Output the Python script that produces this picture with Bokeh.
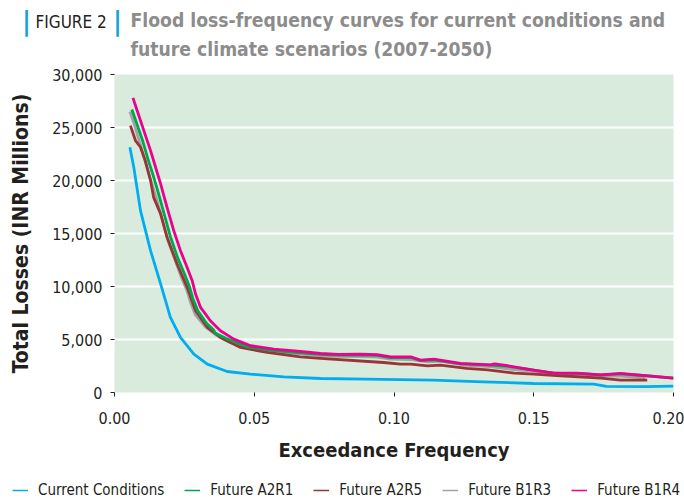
from bokeh.plotting import figure
from bokeh.layouts import column
from bokeh.models import (Label, Legend, LegendItem, NumeralTickFormatter,
                          FixedTicker, Range1d)
from bokeh.embed import file_html
from bokeh.resources import INLINE

# ---------------- data ----------------
series_names = ["Current Conditions", "Future A2R1", "Future A2R5",
                "Future B1R3", "Future B1R4"]
series_colors = ["#00aeef", "#00a651", "#9b3535", "#a3a3a3", "#ec008c"]

current_x = [0.0055, 0.0069, 0.0093, 0.0129, 0.0165, 0.020, 0.0236, 0.0284,
             0.0332, 0.0403, 0.0487, 0.0606, 0.0737, 0.090, 0.114, 0.132,
             0.150, 0.1715, 0.176, 0.190, 0.200]
current_y = [23135, 21250, 17160, 13380, 10240, 7080, 5190, 3630,
             2680, 1980, 1740, 1480, 1320, 1270, 1170, 1010,
             850, 790, 570, 560, 600]

a2r1_x = [0.0062, 0.0078, 0.0100, 0.0120, 0.0138, 0.0156, 0.0178, 0.0200,
          0.0226, 0.025, 0.0268, 0.028, 0.0298, 0.033, 0.0355, 0.036, 0.040,
          0.0475, 0.057, 0.0665, 0.0737, 0.080, 0.088, 0.094, 0.0987, 0.106,
          0.1095, 0.1143, 0.1238, 0.1345, 0.140, 0.150, 0.157, 0.1655, 0.174,
          0.181, 0.190, 0.200]
a2r1_y = [26700, 25500, 23800, 22000, 20500, 18900, 16800, 14700,
          12700, 11200, 10000, 8900, 7700, 6500, 5900, 5600, 5100,
          4300, 3950, 3750, 3600, 3520, 3550, 3500, 3300, 3300,
          3000, 3080, 2700, 2580, 2500, 2100, 1820, 1800, 1650,
          1750, 1580, 1350]

a2r5_x = [0.0057, 0.0075, 0.0093, 0.011, 0.0129, 0.014, 0.0165, 0.0188,
          0.0224, 0.026, 0.029, 0.0332, 0.0379, 0.0451, 0.0546, 0.0665,
          0.0737, 0.0963, 0.1023, 0.106, 0.112, 0.1166, 0.126, 0.1335,
          0.143, 0.150, 0.1596, 0.174, 0.181, 0.1906]
a2r5_y = [25180, 23770, 23140, 21880, 19990, 18410, 16850, 14640,
          12120, 9920, 7710, 6140, 5190, 4250, 3780, 3370,
          3210, 2830, 2680, 2680, 2520, 2590, 2270, 2140,
          1830, 1740, 1580, 1360, 1170, 1170]

b1r3_x = [0.0055, 0.0072, 0.0092, 0.0112, 0.0130, 0.0148, 0.0170, 0.0192,
          0.0218, 0.0240, 0.0258, 0.0272, 0.029, 0.0325, 0.0365, 0.0415,
          0.048, 0.057, 0.0665, 0.0737, 0.080, 0.088, 0.094, 0.0987, 0.106,
          0.112, 0.1166, 0.126, 0.1345, 0.143, 0.150, 0.1596, 0.174, 0.181,
          0.190]
b1r3_y = [26500, 25200, 23400, 21600, 20000, 18500, 16400, 14300,
          12400, 10800, 9700, 8500, 7300, 6200, 5400, 4700,
          4150, 3800, 3650, 3480, 3400, 3380, 3330, 3150, 3100,
          2900, 2950, 2550, 2450, 2150, 2000, 1800, 1550, 1550,
          1350]

b1r4_x = [0.0066, 0.0081, 0.0105, 0.0129, 0.0147, 0.0165, 0.0188, 0.0212,
          0.0236, 0.026, 0.0278, 0.029, 0.0308, 0.0343, 0.0379, 0.0427,
          0.0487, 0.057, 0.0665, 0.0737, 0.080, 0.088, 0.094, 0.0987, 0.106,
          0.1095, 0.1143, 0.1238, 0.1345, 0.136, 0.140, 0.150, 0.157, 0.1655,
          0.174, 0.181, 0.190, 0.200]
b1r4_y = [27800, 26600, 24710, 22820, 21250, 19680, 17470, 15270,
          13380, 11800, 10550, 9290, 8030, 6770, 5830, 5040,
          4410, 4100, 3870, 3680, 3600, 3620, 3580, 3370, 3370,
          3060, 3150, 2740, 2615, 2700, 2550, 2115, 1830, 1830,
          1670, 1795, 1600, 1360]

x_ticks = [0.0, 0.05, 0.10, 0.15, 0.20]
y_ticks = [0, 5000, 10000, 15000, 20000, 25000, 30000]

title_tag = "FIGURE 2"
title_line1 = "Flood loss-frequency curves for current conditions and"
title_line2 = "future climate scenarios (2007-2050)"
x_label = "Exceedance Frequency"
y_label = "Total Losses (INR Millions)"

FONT = "DejaVu Sans Condensed"
TXT = "#231f20"
W = 684

# ---------------- title strip ----------------
TH = 62
tfig = figure(width=W, height=TH, output_backend="svg", toolbar_location=None,
              x_range=Range1d(0, 1), y_range=Range1d(0, 1),
              min_border=0, x_axis_type=None, y_axis_type=None,
              frame_align=False)
tfig.outline_line_color = None
tfig.grid.visible = False


def add_label(txt, px, py, size, color, style="bold"):
    tfig.add_layout(Label(x=px, y=TH - py, x_units="screen",
                          y_units="screen", text=txt, text_font=FONT,
                          text_font_size=size, text_color=color,
                          text_font_style=style, text_baseline="middle",
                          text_align="center" if txt == "|" else "left"))


add_label("|", 26, 20, "26px", "#1ba1d9", "bold")
add_label(title_tag, 35, 21, "17px", TXT, "normal")
add_label("|", 117, 20, "26px", "#1ba1d9", "bold")
add_label(title_line1, 130, 20, "19.2px", "#8c8c8c")
add_label(title_line2, 130, 49, "19.2px", "#8c8c8c")

# ---------------- main plot ----------------
MH = 410
p = figure(width=W, height=MH, output_backend="svg", toolbar_location=None,
           x_range=Range1d(0, 0.2), y_range=Range1d(0, 30000),
           min_border_left=114, min_border_right=11, min_border_top=12,
           min_border_bottom=80, frame_align=False)
p.background_fill_color = "#d8ebdd"
p.border_fill_color = "white"
p.outline_line_color = None

p.xgrid.grid_line_color = None
p.ygrid.grid_line_color = "white"
p.ygrid.grid_line_width = 2

for ax in (p.xaxis[0], p.yaxis[0]):
    ax.axis_line_color = None
    ax.major_tick_line_color = TXT
    ax.major_tick_in = 0
    ax.major_tick_out = 4
    ax.minor_tick_line_color = None
    ax.major_label_text_font = FONT
    ax.major_label_text_font_size = "16px"
    ax.major_label_text_color = TXT
    ax.axis_label_text_font = FONT
    ax.axis_label_text_font_style = "bold"
    ax.axis_label_text_color = TXT

p.xaxis.axis_label_text_font_size = "20px"
p.yaxis.axis_label_text_font_size = "21px"
p.xaxis.ticker = FixedTicker(ticks=x_ticks)
p.yaxis.ticker = FixedTicker(ticks=y_ticks)
p.xaxis.formatter = NumeralTickFormatter(format="0.00")
p.yaxis.formatter = NumeralTickFormatter(format="0,0")
p.xaxis.axis_label = x_label
p.yaxis.axis_label = y_label
p.xaxis.major_label_standoff = 15
p.xaxis.axis_label_standoff = 11
p.yaxis.major_label_standoff = 8
p.yaxis.axis_label_standoff = 16

all_x = [current_x, a2r1_x, a2r5_x, b1r3_x, b1r4_x]
all_y = [current_y, a2r1_y, a2r5_y, b1r3_y, b1r4_y]
order = [0, 3, 2, 1, 4]
for i in order:
    p.line(all_x[i], all_y[i], line_color=series_colors[i], line_width=2.8,
           line_join="round")

# ---------------- legend strip ----------------
LH = 501 - TH - MH
lfig = figure(width=W, height=LH, output_backend="svg", toolbar_location=None,
              x_range=Range1d(0, 1), y_range=Range1d(0, 1),
              min_border=0, x_axis_type=None, y_axis_type=None,
              frame_align=False)
lfig.outline_line_color = None
lfig.grid.visible = False

nan = float("nan")
items = []
for name, col in zip(series_names, series_colors):
    r = lfig.line([nan], [nan], line_color=col, line_width=1.5)
    items.append(LegendItem(label=name, renderers=[r]))

legend = Legend(items=items, orientation="horizontal", location=(12, 2),
                label_text_font=FONT, label_text_font_size="15px",
                label_text_color=TXT, glyph_width=16, glyph_height=12,
                label_standoff=10, spacing=20, padding=0, margin=0,
                border_line_color=None, background_fill_alpha=0)
lfig.add_layout(legend)

layout = column(tfig, p, lfig, spacing=0)
open("out.html", "w").write(file_html(layout, INLINE))
